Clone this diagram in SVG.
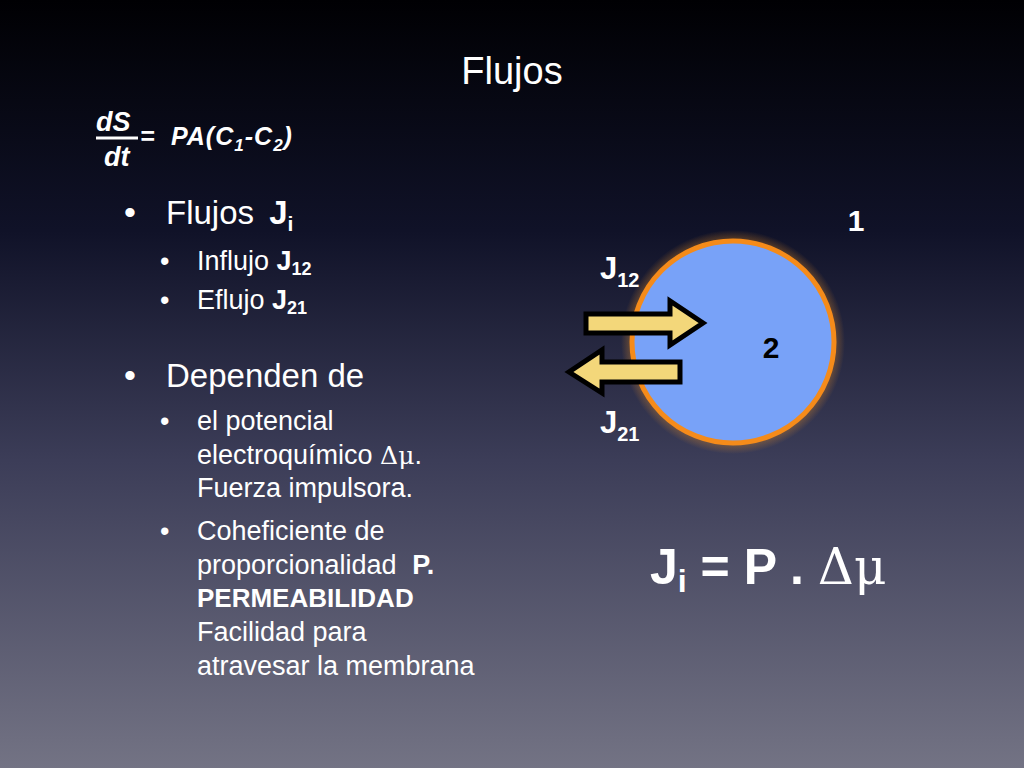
<svg xmlns="http://www.w3.org/2000/svg" width="1024" height="768" viewBox="0 0 1024 768">
<defs>
<linearGradient id="bg" x1="0" y1="0" x2="0" y2="1">
<stop offset="0" stop-color="#000003"/>
<stop offset="0.3" stop-color="#101228"/>
<stop offset="0.6" stop-color="#3c3d58"/>
<stop offset="1" stop-color="#737384"/>
</linearGradient>
<radialGradient id="glow"><stop offset="0.85" stop-color="#ff9a20" stop-opacity="0.5"/><stop offset="1" stop-color="#ff9a20" stop-opacity="0"/></radialGradient>
</defs>
<style>
text{font-family:"Liberation Sans",Arial,sans-serif;fill:#fff}
.b{font-weight:bold}
.arr{fill:#f3d77a;stroke:#000;stroke-width:5;stroke-linejoin:miter}
</style>
<rect width="1024" height="768" fill="url(#bg)"/>
<text x="512" y="84" font-size="38" text-anchor="middle">Flujos</text>
<g id="formula">
<text x="96" y="131" font-size="27" font-weight="bold" font-style="italic">dS</text>
<line x1="96" y1="138" x2="138" y2="138" stroke="#fff" stroke-width="3"/>
<text x="104" y="166" font-size="27" font-weight="bold" font-style="italic">dt</text>
<text x="140" y="145" font-size="25" font-weight="bold" font-style="italic">=</text>
<text x="171" y="145" font-size="25" font-weight="bold" font-style="italic" letter-spacing="1">PA(C<tspan font-size="17" dy="6">1</tspan><tspan dy="-6">-C</tspan><tspan font-size="17" dy="6">2</tspan><tspan dy="-6">)</tspan></text>
</g>
<g id="bullets">
<text x="124" y="224" font-size="34">•</text>
<text x="166" y="224" font-size="33">Flujos <tspan class="b" dx="6">J</tspan><tspan class="b" font-size="21" dy="7">i</tspan></text>
<text x="160" y="270" font-size="27">•</text>
<text x="197" y="270" font-size="27">Influjo <tspan class="b">J</tspan><tspan class="b" font-size="18" dy="5">12</tspan></text>
<text x="160" y="309" font-size="27">•</text>
<text x="197" y="309" font-size="27">Eflujo <tspan class="b">J</tspan><tspan class="b" font-size="18" dy="5">21</tspan></text>
<text x="124" y="387" font-size="34">•</text>
<text x="166" y="387" font-size="33">Dependen de</text>
<text x="160" y="430" font-size="27">•</text>
<text x="197" y="430" font-size="27">el potencial</text>
<text x="197" y="464" font-size="27">electroquímico <tspan font-family="'DejaVu Serif',serif" font-size="25">Δμ</tspan>.</text>
<text x="197" y="497" font-size="27">Fuerza impulsora.</text>
<text x="160" y="540" font-size="27">•</text>
<text x="197" y="540" font-size="27">Coheficiente de</text>
<text x="197" y="574" font-size="27">proporcionalidad <tspan class="b" dx="8">P.</tspan></text>
<text x="197" y="607" font-size="26" class="b">PERMEABILIDAD</text>
<text x="197" y="641" font-size="27">Facilidad para</text>
<text x="197" y="675" font-size="27">atravesar la membrana</text>
</g>
<g id="cell">
<circle cx="733" cy="342" r="112" fill="url(#glow)"/>
<circle cx="733" cy="342" r="101" fill="#78a2f8" stroke="#f58b1a" stroke-width="5"/>
<text x="771" y="358" font-size="30" class="b" text-anchor="middle" style="fill:#000">2</text>
<text x="856" y="231" font-size="30" class="b" text-anchor="middle">1</text>
</g>
<g id="connectors">
<polygon class="arr" points="586,314 670,314 670,301 703,323 670,345 670,333 586,333"/>
<polygon class="arr" points="680,362 602,362 602,350 569,372 602,393 602,382 680,382"/>
</g>
<text x="600" y="279" font-size="31" class="b">J<tspan font-size="20" dy="8">12</tspan></text>
<text x="600" y="433" font-size="31" class="b">J<tspan font-size="20" dy="8">21</tspan></text>
<text x="650" y="584" font-size="50" class="b">J<tspan font-size="32" dy="8">i</tspan><tspan dy="-8"> = P . </tspan><tspan font-weight="normal" font-family="'DejaVu Serif',serif">Δμ</tspan></text>
</svg>
